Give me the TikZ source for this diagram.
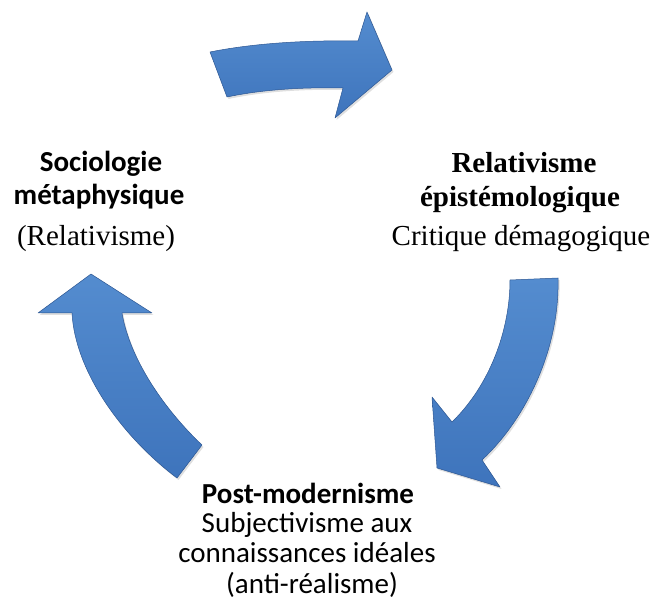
\documentclass[tikz,border=0pt]{standalone}
\usepackage{fontspec}
\setmainfont{Liberation Serif}
\newfontfamily\calibri{Carlito}
\usetikzlibrary{shadows}
\definecolor{arrowblue}{RGB}{62,116,188}
\definecolor{arrowlight}{RGB}{84,140,207}
\definecolor{arrowedge}{RGB}{44,86,146}

\begin{document}
\begin{tikzpicture}[x=1pt,y=-1pt,
    cyclearrow/.style={top color=arrowlight,bottom color=arrowblue,draw=arrowedge,
      line width=0.5pt,line join=round,
      drop shadow={opacity=0.25,shadow xshift=1.5pt,shadow yshift=-2pt}},
    every node/.style={anchor=base,inner sep=0pt},
    calbold/.style={font=\calibri\fontsize{29}{30}\selectfont\bfseries},
    calreg/.style={font=\calibri\fontsize{29}{30}\selectfont},
    timesbold/.style={font=\fontsize{29}{30}\selectfont\bfseries},
    timesreg/.style={font=\fontsize{29}{30}\selectfont}]
  \useasboundingbox (0,0) rectangle (654,609);

  % arrows of the cycle
  \draw[cyclearrow] (210,52) .. controls (250,44) and (300,40) .. (358,41)
      -- (367,12) -- (392,70) -- (335,118) -- (343,88)
      .. controls (300,87) and (260,90) .. (227,97) -- cycle;
  \draw[cyclearrow] (558,278) .. controls (560,350) and (525,420) .. (482,460)
      -- (500,487) -- (437,468) -- (432,397) -- (452,422)
      .. controls (490,385) and (510,330) .. (510,280) -- cycle;
  \draw[cyclearrow] (177,478) .. controls (120,435) and (75,370) .. (72,313)
      -- (38,313) -- (91,274) -- (152,313) -- (122,313)
      .. controls (130,360) and (165,410) .. (202,445) -- cycle;

  % left block
  \node[calbold]  (socio)  at (101,172) {Sociologie};
  \node[calbold]  (meta)   at (99,205)  {métaphysique};
  \node[timesreg] (relat)  at (96,246)  {(Relativisme)};

  % right block
  \node[timesbold] (relepi) at (524,173) {Relativisme};
  \node[timesbold] (episte) at (520,207) {épistémologique};
  \node[timesreg]  (critik) at (521,246) {Critique démagogique};

  % bottom block
  \node[calbold] (postmod) at (308,504) {Post-modernisme};
  \node[calreg]  (subjec)  at (307,533) {Subjectivisme aux};
  \node[calreg]  (connai)  at (307,563) {connaissances idéales};
  \node[calreg]  (antire)  at (312,594) {(anti-réalisme)};
\end{tikzpicture}
\end{document}
